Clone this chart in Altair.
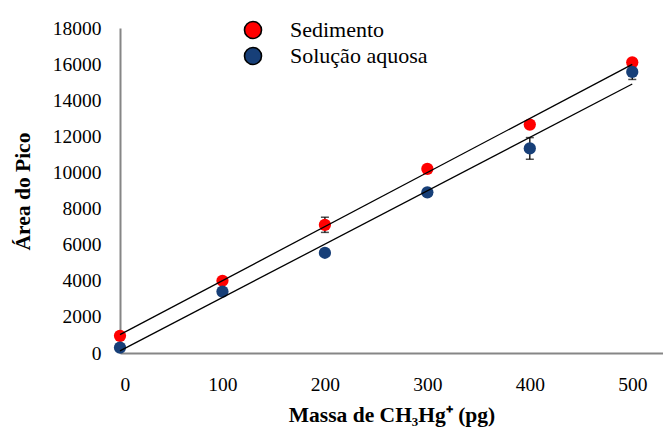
import altair as alt
import pandas as pd

massa = [0, 100, 200, 300, 400, 500]
sedimento = [950, 4000, 7100, 10200, 12650, 16100]
sedimento_err = [60, 100, 420, 150, 120, 150]
aquosa = [300, 3400, 5550, 8900, 11330, 15570]
aquosa_err = [60, 150, 100, 100, 600, 420]
series = ["Sedimento", "Solução aquosa"]
colors = ["#ff0000", "#173f78"]

rows = []
for x, y, e in zip(massa, sedimento, sedimento_err):
    rows.append({"x": x, "y": y, "lo": y - e, "hi": y + e, "serie": series[0]})
for x, y, e in zip(massa, aquosa, aquosa_err):
    rows.append({"x": x, "y": y, "lo": y - e, "hi": y + e, "serie": series[1]})
df = pd.DataFrame(rows)

FONT = "Liberation Serif"

xs = alt.Scale(domain=[0, 530], nice=False, zero=False)
ys = alt.Scale(domain=[0, 18000], nice=False)

xaxis = alt.Axis(values=massa, title="Massa de CH₃Hg⁺ (pg)", ticks=False, grid=False,
                 format="d", labelPadding=22, titleY=68, titleBaseline="alphabetic")
yaxis = alt.Axis(values=list(range(0, 18001, 2000)), title="Área do Pico", ticks=False,
                 format="d", grid=False, labelPadding=19, titleX=-86, titleY=163,
                 titleAlign="center", titleBaseline="bottom", titleAngle=-90)

X = lambda f: alt.X(f, scale=xs, axis=xaxis)
Y = lambda f: alt.Y(f, scale=ys, axis=yaxis)

base = alt.Chart(df)

rules = base.mark_rule(color="black", strokeWidth=1.3).encode(
    x=X("x:Q"), y=Y("lo:Q"), y2="hi:Q")
caps_lo = base.mark_tick(color="black", orient="horizontal", size=8, thickness=1.5).encode(
    x=X("x:Q"), y=Y("lo:Q"))
caps_hi = base.mark_tick(color="black", orient="horizontal", size=8, thickness=1.5).encode(
    x=X("x:Q"), y=Y("hi:Q"))

points = base.mark_point(filled=True, opacity=1, size=150).encode(
    x=X("x:Q"),
    y=Y("y:Q"),
    color=alt.Color("serie:N", scale=alt.Scale(domain=series, range=colors),
                    legend=alt.Legend(title=None, orient="none", legendX=122, legendY=-9,
                                      symbolType="circle", symbolSize=290,
                                      symbolStrokeColor="black", symbolStrokeWidth=1.6,
                                      symbolOpacity=1,
                                      labelFont=FONT, labelFontSize=22, labelColor="black",
                                      labelOffset=26, rowPadding=2, padding=0)),
)

lines = base.transform_regression("x", "y", groupby=["serie"]).mark_line(
    color="black", strokeWidth=1.3).encode(
    x=X("x:Q"), y=Y("y:Q"), detail="serie:N")

chart = alt.layer(rules, caps_lo, caps_hi, points, lines).properties(
    width=543, height=325,
    background="white",
    autosize=alt.AutoSizeParams(type="none"),
    padding={"left": 112, "top": 20, "right": 0, "bottom": 74},
).configure_view(stroke=None).configure_axis(
    domainColor="#868686", domainWidth=2,
    labelFont=FONT, labelFontSize=19.5, labelColor="black",
    titleFont=FONT, titleFontSize=21.5, titleFontWeight="bold", titleColor="black",
)

chart.save("out.html", embed_options={"renderer": "svg", "actions": False})
